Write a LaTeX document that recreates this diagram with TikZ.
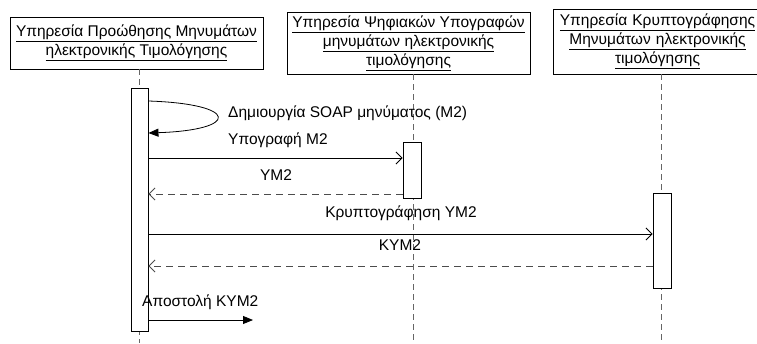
\documentclass[tikz,border=0pt]{standalone}
\usepackage{fontspec}
\setmainfont{Liberation Sans}
\usetikzlibrary{arrows,arrows.meta,positioning,calc}

\begin{document}
\begin{tikzpicture}[x=1pt,y=-1pt,
    hdr/.style={draw,line width=0.9pt,fill=white,align=center,inner sep=0pt,font=\fontsize{15.5}{19}\selectfont},
    act/.style={draw,line width=0.9pt,fill=white,minimum width=17pt,inner sep=0pt},
    life/.style={gray!80!black,dashed,dash pattern=on 6pt off 4pt},
    msg/.style={-{Straight Barb[length=6pt,width=12pt]},line width=0.8pt},
    ret/.style={-{Straight Barb[length=6pt,width=12pt]},line width=0.8pt,dashed,dash pattern=on 7pt off 5pt,gray!60!black},
    async/.style={-{Triangle[length=10pt,width=8pt]},line width=0.8pt},
    lbl/.style={font=\fontsize{15.5}{17}\selectfont,inner sep=0pt}]
  \useasboundingbox (0,0) rectangle (757,343);
  \clip (0,0) rectangle (757,343);

  % services
  \node[hdr,minimum width=253pt,minimum height=52pt] (hdrA) at (136.5,43)
    {\underline{Υπηρεσία Προώθησης Μηνυμάτων}\\ \underline{ηλεκτρονικής Τιμολόγησης}};
  \node[hdr,minimum width=243pt,minimum height=62pt] (hdrB) at (408.5,43)
    {\underline{Υπηρεσία Ψηφιακών Υπογραφών}\\ \underline{μηνυμάτων ηλεκτρονικής}\\ \underline{τιμολόγησης}};
  \node[hdr,minimum width=209pt,minimum height=65pt,text width=209pt] (hdrC) at (657.5,41.5)
    {\underline{Υπηρεσία Κρυπτογράφησης}\\ \underline{Μηνυμάτων ηλεκτρονικής}\\ \underline{τιμολόγησης}};

  % lifelines
  \coordinate (endA) at (139.5,343);
  \coordinate (endB) at (413,343);
  \coordinate (endC) at (661,343);
  \draw[life] (hdrA.south -| endA) -- (endA);
  \draw[life] (hdrB.south -| endB) -- (endB);
  \draw[life] (hdrC.south -| endC) -- (endC);

  % activations
  \node[act,minimum height=243pt] (actA) at (139.5,209.5) {};
  \node[act,minimum height=56pt,minimum width=18pt] (actB) at (412,170) {};
  \node[act,minimum height=95pt,minimum width=18pt] (actC) at (662,240.5) {};

  % messages
  \draw[async] (actA.east |- 0,101) .. controls (240,104) and (240,130) .. (actA.east |- 0,133);
  \node[lbl,anchor=west] (m1) at (228,113) {Δημιουργία SOAP μηνύματος (M2)};
  \node[lbl,anchor=west] (m2) at (228,140) {Υπογραφή M2};
  \draw[msg] (actA.east |- 0,158) -- (actB.west |- 0,158);
  \node[lbl] (m3) at (276,175) {YM2};
  \draw[ret] (actB.west |- 0,194) -- (actA.east |- 0,194);
  \node[lbl] (m4) at (401,213) {Κρυπτογράφηση YM2};
  \draw[msg] (actA.east |- 0,234) -- (actC.west |- 0,234);
  \node[lbl] (m5) at (400,245) {KYM2};
  \draw[ret] (actC.west |- 0,266) -- (actA.east |- 0,266);
  \node[lbl,anchor=west] (m6) at (142,302) {Αποστολή KYM2};
  \coordinate (send) at (253,320);
  \draw[async] (actA.east |- send) -- (send);
\end{tikzpicture}
\end{document}
